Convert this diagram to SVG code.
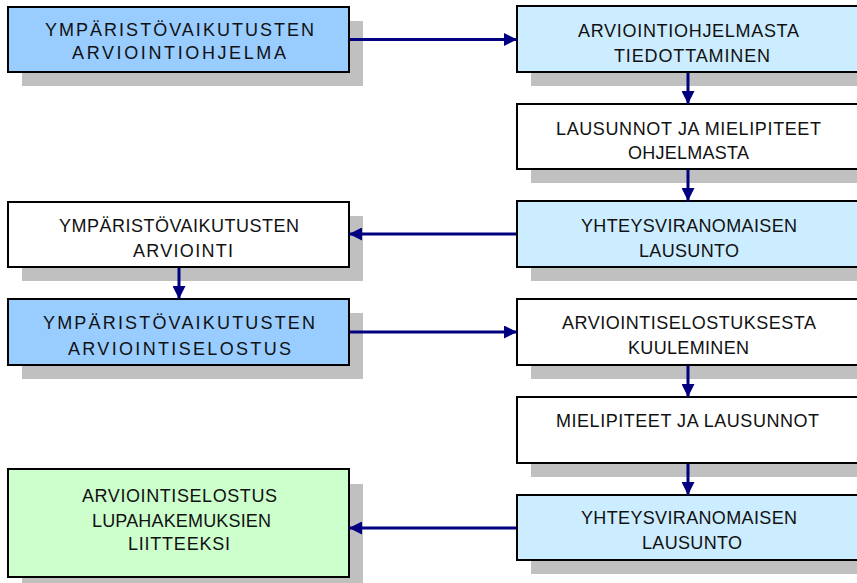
<svg xmlns="http://www.w3.org/2000/svg" width="857" height="583" viewBox="0 0 857 583">
  <style>
    .shadow { fill: #C0C0C0; stroke: none; }
    .box { stroke: #000; stroke-width: 2; }
    .blue { fill: #99CCFF; }
    .pale { fill: #CCECFF; }
    .white { fill: #FFFFFF; }
    .green { fill: #CCFFCC; }
    text { font-family: "Liberation Sans", Arial, sans-serif; font-size: 18px; fill: #111; text-anchor: middle; }
    .conn { stroke: #000080; stroke-width: 3; fill: none; marker-end: url(#arrow); }
  </style>
  <defs>
    <marker id="arrow" markerUnits="userSpaceOnUse" markerWidth="13" markerHeight="13" refX="13" refY="6.5" orient="auto">
      <path d="M0,0 L13,6.5 L0,13 Z" fill="#000080"/>
    </marker>
  </defs>
  <rect width="857" height="583" fill="#FFFFFF"/>

  <g id="node-ymparistovaikutusten-arviointiohjelma">
    <rect class="shadow" x="22" y="21" width="341" height="65"/>
    <rect class="box blue" x="8" y="7" width="341" height="65"/>
    <text x="179.5" y="36" textLength="269" lengthAdjust="spacing">YMPÄRISTÖVAIKUTUSTEN</text>
    <text x="179" y="59" textLength="214" lengthAdjust="spacing">ARVIOINTIOHJELMA</text>
  </g>

  <g id="node-arviointiohjelmasta-tiedottaminen">
    <rect class="shadow" x="531" y="20" width="341" height="66"/>
    <rect class="box pale" x="517" y="6" width="341" height="66"/>
    <text x="688.5" y="37" textLength="221" lengthAdjust="spacing">ARVIOINTIOHJELMASTA</text>
    <text x="692" y="62" textLength="156" lengthAdjust="spacing">TIEDOTTAMINEN</text>
  </g>

  <g id="node-lausunnot-ja-mielipiteet">
    <rect class="shadow" x="531" y="118" width="341" height="65"/>
    <rect class="box white" x="517" y="104" width="341" height="65"/>
    <text x="688.5" y="135" textLength="265" lengthAdjust="spacing">LAUSUNNOT JA MIELIPITEET</text>
    <text x="688.5" y="159" textLength="121" lengthAdjust="spacing">OHJELMASTA</text>
  </g>

  <g id="node-yhteysviranomaisen-lausunto-1">
    <rect class="shadow" x="531" y="215" width="341" height="66"/>
    <rect class="box pale" x="517" y="201" width="341" height="66"/>
    <text x="689" y="232" textLength="216" lengthAdjust="spacing">YHTEYSVIRANOMAISEN</text>
    <text x="689" y="257" textLength="100" lengthAdjust="spacing">LAUSUNTO</text>
  </g>

  <g id="node-ymparistovaikutusten-arviointi">
    <rect class="shadow" x="22" y="216" width="341" height="65"/>
    <rect class="box white" x="8" y="202" width="341" height="65"/>
    <text x="179" y="232" textLength="240" lengthAdjust="spacing">YMPÄRISTÖVAIKUTUSTEN</text>
    <text x="183" y="257" textLength="100" lengthAdjust="spacing">ARVIOINTI</text>
  </g>

  <g id="node-ymparistovaikutusten-arviointiselostus">
    <rect class="shadow" x="22" y="313" width="341" height="66"/>
    <rect class="box blue" x="8" y="299" width="341" height="66"/>
    <text x="179" y="329" textLength="272" lengthAdjust="spacing">YMPÄRISTÖVAIKUTUSTEN</text>
    <text x="179.5" y="355" textLength="223" lengthAdjust="spacing">ARVIOINTISELOSTUS</text>
  </g>

  <g id="node-arviointiselostuksesta-kuuleminen">
    <rect class="shadow" x="531" y="313" width="341" height="66"/>
    <rect class="box white" x="517" y="299" width="341" height="66"/>
    <text x="689" y="329" textLength="254" lengthAdjust="spacing">ARVIOINTISELOSTUKSESTA</text>
    <text x="688.5" y="354" textLength="121" lengthAdjust="spacing">KUULEMINEN</text>
  </g>

  <g id="node-mielipiteet-ja-lausunnot">
    <rect class="shadow" x="531" y="411" width="341" height="66"/>
    <rect class="box white" x="517" y="397" width="341" height="66"/>
    <text x="687.5" y="427" textLength="263" lengthAdjust="spacing">MIELIPITEET JA LAUSUNNOT</text>
  </g>

  <g id="node-yhteysviranomaisen-lausunto-2">
    <rect class="shadow" x="531" y="509" width="341" height="65"/>
    <rect class="box pale" x="517" y="495" width="341" height="65"/>
    <text x="689" y="524" textLength="216" lengthAdjust="spacing">YHTEYSVIRANOMAISEN</text>
    <text x="692" y="549" textLength="100" lengthAdjust="spacing">LAUSUNTO</text>
  </g>

  <g id="node-arviointiselostus-lupahakemuksien-liitteeksi">
    <rect class="shadow" x="22" y="484" width="341" height="108"/>
    <rect class="box green" x="8" y="469" width="341" height="108"/>
    <text x="179.5" y="502" textLength="195" lengthAdjust="spacing">ARVIOINTISELOSTUS</text>
    <text x="181.5" y="527" textLength="179" lengthAdjust="spacing">LUPAHAKEMUKSIEN</text>
    <text x="179" y="550" textLength="102" lengthAdjust="spacing">LIITTEEKSI</text>
  </g>

  <g id="connectors">
    <line class="conn" x1="350" y1="39.5" x2="517" y2="39.5"/>
    <line class="conn" x1="688" y1="73" x2="688" y2="104"/>
    <line class="conn" x1="688" y1="170" x2="688" y2="201"/>
    <line class="conn" x1="516" y1="234" x2="349" y2="234"/>
    <line class="conn" x1="179" y1="268" x2="179" y2="299"/>
    <line class="conn" x1="350" y1="332" x2="517" y2="332"/>
    <line class="conn" x1="688" y1="366" x2="688" y2="397"/>
    <line class="conn" x1="688" y1="464" x2="688" y2="495"/>
    <line class="conn" x1="516" y1="528" x2="349" y2="528"/>
  </g>
</svg>
